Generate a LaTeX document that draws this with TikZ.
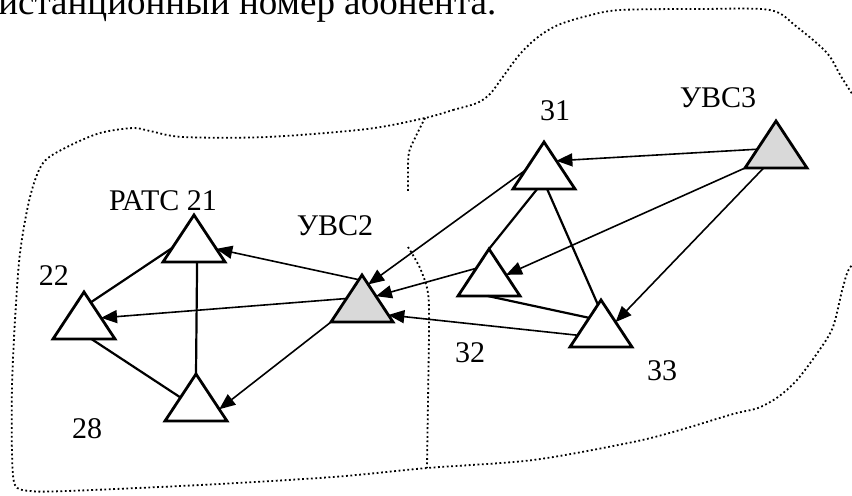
\documentclass[tikz,border=0pt]{standalone}
\usepackage{fontspec}
\setmainfont{Liberation Serif}
\usetikzlibrary{arrows.meta, shapes.geometric, calc}

\tikzset{
  tri/.style={isosceles triangle, isosceles triangle stretches,
    shape border rotate=90, minimum width=31pt, minimum height=23.5pt,
    inner sep=0pt, outer sep=0pt, draw, line width=1.4pt, fill=white, anchor=apex},
  hub/.style={tri, fill=black!15},
  lbl/.style={inner sep=0pt, anchor=base, font=\fontsize{15}{18}\selectfont},
  link/.style={line width=1.1pt},
  feed/.style={line width=0.8pt, ->},
  zone/.style={line width=0.9pt, dash pattern=on 0.9pt off 1.3pt},
}

\begin{document}
\begin{tikzpicture}[x=0.5pt, y=-0.5pt, >={Triangle[length=8pt,width=6.5pt]}]
\useasboundingbox (0,0) rectangle (852,495);

% line of text above the figure
\node[lbl, anchor=base west, font=\fontsize{18.5}{22}\selectfont] (head) at (-2,14)
  {истанционный номер абонента.};

% zone borders
\draw[zone] plot[smooth cycle, tension=0.5] coordinates {
  (425,118) (453,110) (477,103) (490,94) (502,78) (520,54) (538,37) (558,25)
  (587,16) (620,10) (700,9) (770,10) (797,27) (827,53) (842,78) (866,115)
  (910,180) (885,240) (852,265) (843,287) (833,327) (818,352) (797,380) (778,397)
  (758,408) (733,414) (680,430) (633,442) (533,460) (427,468) (333,477)
  (200,485) (67,491) (30,491) (15,485) (12,453) (12,387) (15,320) (20,253)
  (30,197) (43,163) (67,147) (100,133) (133,128) (150,131) (183,137)
  (267,137) (367,129)};
\draw[zone] plot[smooth, tension=0.5] coordinates {
  (425,118) (416,136) (409,152) (408,170) (408,193)};
\draw[zone] plot[smooth, tension=0.5] coordinates {
  (408,247) (420,268) (428,293) (429,330) (428,400) (427,468)};

% define the stations
\node[tri] (t21) at (194,215) {};
\node[tri] (t22) at (84,292)  {};
\node[tri] (t28) at (196,374) {};
\node[hub] (v2)  at (362,275) {};
\node[tri] (t31) at (544,142) {};
\node[hub] (v3)  at (776,121) {};
\node[tri] (t32) at (489,249) {};
\node[tri] (t33) at (601,300) {};

% station labels
\node[lbl] (l21) at (163,210) {РАТС 21};
\node[lbl] (l22) at (54,285)  {22};
\node[lbl] (l28) at (87,438)  {28};
\node[lbl] (lv2) at (335,235) {УВС2};
\node[lbl] (l31) at (555,120) {31};
\node[lbl] (lv3) at (718,107) {УВС3};
\node[lbl] (l32) at (470,362) {32};
\node[lbl] (l33) at (662,380) {33};

% links inside each zone
\draw[link] ($(t21.apex)!0.7!(t21.left corner)$) -- ($(t22.apex)!0.22!(t22.right corner)$);
\draw[link] ($(t21.left corner)!0.55!(t21.right corner)$) -- (t28.apex);
\draw[link] ($(t22.left corner)!0.62!(t22.right corner)$) -- ($(t28.apex)!0.5!(t28.left corner)$);
\draw[link] ($(t31.left corner)!0.39!(t31.right corner)$) -- (t32.apex);
\draw[link] ($(t31.left corner)!0.55!(t31.right corner)$) -- ($(t33.apex)!0.1!(t33.left corner)$);
\draw[link] ($(t32.left corner)!0.48!(t32.right corner)$) -- ($(t33.apex)!0.38!(t33.left corner)$);

% routes through the hubs
\draw[feed] ($(v2.apex)!0.1!(v2.left corner)$) -- ($(t21.apex)!0.72!(t21.right corner)$);
\draw[feed] ($(v2.apex)!0.5!(v2.left corner)$) -- ($(t22.apex)!0.55!(t22.right corner)$);
\draw[feed] (v2.left corner) -- ($(t28.apex)!0.75!(t28.right corner)$);
\draw[feed] ($(t31.apex)!0.6!(t31.left corner)$) -- ($(v2.apex)!0.2!(v2.right corner)$);
\draw[feed] ($(t32.apex)!0.41!(t32.left corner)$) -- ($(v2.apex)!0.45!(v2.right corner)$);
\draw[feed] ($(t33.apex)!0.75!(t33.left corner)$) -- ($(v2.apex)!0.85!(v2.right corner)$);
\draw[feed] ($(v3.apex)!0.6!(v3.left corner)$) -- ($(t31.apex)!0.4!(t31.right corner)$);
\draw[feed] (v3.left corner) -- ($(t32.apex)!0.55!(t32.right corner)$);
\draw[feed] ($(v3.left corner)!0.3!(v3.right corner)$) -- ($(t33.apex)!0.47!(t33.right corner)$);

\end{tikzpicture}
\end{document}
